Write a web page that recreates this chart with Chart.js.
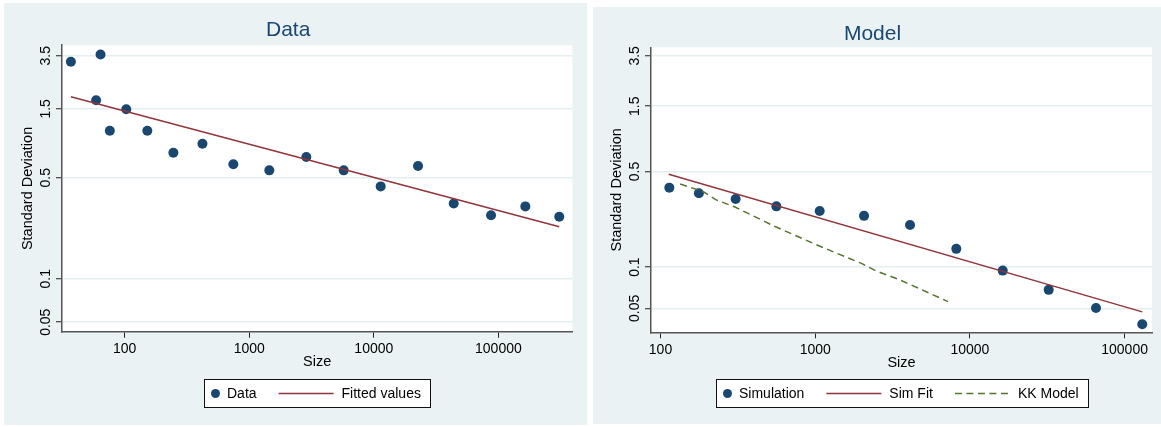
<!DOCTYPE html>
<html>
<head>
<meta charset="utf-8">
<script src="https://cdn.jsdelivr.net/npm/chart.js@4.4.1/dist/chart.umd.min.js"></script>
<style>
  body { margin: 0; background: #fff; width: 1161px; height: 427px; overflow: hidden; position: relative; }
  .panel { position: absolute; }
  #left { left: 4px; top: 3px; width: 583px; height: 422px; }
  #right { left: 593px; top: 7px; width: 568px; height: 417px; }
</style>
</head>
<body>
<div class="panel" id="left"><canvas id="dataChart" width="583" height="422"></canvas></div>
<div class="panel" id="right"><canvas id="modelChart" width="568" height="417"></canvas></div>
<script>
// observed standard deviation by size
const dataSize = [37, 64, 59, 103, 76, 152, 246, 421, 745, 1449, 2872, 5730, 11350, 22640, 43770, 87300, 164500, 308000];
const dataSd = [3.18, 3.57, 1.72, 1.49, 1.06, 1.06, 0.745, 0.86, 0.62, 0.563, 0.696, 0.563, 0.436, 0.603, 0.332, 0.275, 0.317, 0.269];
const fitSize = [37, 308000];
const fitSd = [1.82, 0.229];

// simulated standard deviation, its fit and the KK model curve
const simSize = [114, 177, 306, 561, 1069, 2068, 4101, 8166, 16290, 32300, 65300, 130000];
const simSd = [0.381, 0.347, 0.315, 0.278, 0.257, 0.237, 0.203, 0.136, 0.0943, 0.0682, 0.0503, 0.0383];
const simFitSize = [113, 130000];
const simFitSd = [0.477, 0.0471];
const kkSize = [134, 188, 229, 303, 379, 550, 1074, 2007, 2435, 3533, 7218];
const kkSd = [0.405, 0.357, 0.310, 0.275, 0.243, 0.198, 0.142, 0.106, 0.0946, 0.0806, 0.056];

const sizeTicks = [100, 1000, 10000, 100000];
const sdTicks = [0.05, 0.1, 0.5, 1.5, 3.5];

const navy = '#1a476f', maroon = '#90353b', green = '#55752f';
const panelBg = '#eaf2f3';
const fontFamily = '"Liberation Sans", Arial, sans-serif';

Chart.defaults.font.family = fontFamily;
Chart.defaults.color = '#000';

function pts(xs, ys) {
  return xs.map((x, i) => ({ x: x, y: ys[i] }));
}

function dotSet(label, xs, ys) {
  return { label: label, data: pts(xs, ys), backgroundColor: navy, borderColor: navy,
    pointRadius: 5, pointBorderWidth: 0, showLine: false, order: 2 };
}

function lineSet(label, xs, ys, color, dash) {
  return { label: label, data: pts(xs, ys), borderColor: color, backgroundColor: color,
    borderWidth: 1.5, borderDash: dash || [], pointRadius: 0, showLine: true,
    fill: false, tension: 0, order: 1 };
}

// grey panel with a white plot region
const panelFill = {
  id: 'panelFill',
  beforeDraw(chart) {
    const { ctx, chartArea: a, width, height } = chart;
    ctx.save();
    ctx.fillStyle = panelBg;
    ctx.fillRect(0, 0, width, height);
    ctx.fillStyle = '#fff';
    ctx.fillRect(a.left, a.top, a.right - a.left, a.bottom - a.top);
    ctx.restore();
  }
};

// framed legend row under the x axis
const boxedLegend = {
  id: 'boxedLegend',
  afterDraw(chart) {
    const { ctx, chartArea: a } = chart;
    ctx.save();
    ctx.font = '14px ' + fontFamily;
    const parts = chart.data.datasets.map(ds => ({
      ds: ds,
      sample: ds.showLine ? 55 : 9,
      gap: ds.showLine ? 8 : 7,
      tw: ctx.measureText(ds.label).width
    }));
    const inner = parts.reduce((s, p) => s + p.sample + p.gap + p.tw, 0) + 22 * (parts.length - 1);
    const w = Math.round(6.5 + inner + 9.5), h = 28;
    const left = Math.round((a.left + a.right) / 2 - w / 2) + 0.5;
    const top = Math.round(a.bottom + 47) + 0.5;
    ctx.fillStyle = '#fff';
    ctx.fillRect(left, top, w, h);
    ctx.strokeStyle = '#111';
    ctx.lineWidth = 1;
    ctx.strokeRect(left, top, w, h);
    const cy = top + h / 2;
    let x = left + 6.5;
    ctx.textBaseline = 'middle';
    ctx.textAlign = 'left';
    parts.forEach(p => {
      ctx.beginPath();
      if (p.ds.showLine) {
        ctx.strokeStyle = p.ds.borderColor;
        ctx.lineWidth = p.ds.borderWidth;
        ctx.setLineDash(p.ds.borderDash);
        ctx.moveTo(x, cy);
        ctx.lineTo(x + p.sample, cy);
        ctx.stroke();
        ctx.setLineDash([]);
      } else {
        ctx.fillStyle = p.ds.backgroundColor;
        ctx.arc(x + p.sample / 2, cy, p.sample / 2, 0, Math.PI * 2);
        ctx.fill();
      }
      x += p.sample + p.gap;
      ctx.fillStyle = '#000';
      ctx.fillText(p.ds.label, x, cy + 1);
      x += p.tw + 22;
    });
    ctx.restore();
  }
};

function axes(xMin, xMax, yMin, yMax) {
  return {
    x: {
      type: 'logarithmic', min: xMin, max: xMax,
      afterBuildTicks: s => { s.ticks = sizeTicks.map(v => ({ value: v })); },
      afterFit: s => { s.height = 40; },
      ticks: { callback: v => String(v), font: { size: 14 }, padding: 3, maxRotation: 0, autoSkip: false, color: '#000' },
      grid: { drawOnChartArea: false, tickLength: 6, tickColor: '#222', tickWidth: 1 },
      border: { color: '#555', width: 1.5 },
      title: { display: true, text: 'Size', font: { size: 14.5 }, padding: { top: 0, bottom: 1 }, color: '#000' }
    },
    y: {
      type: 'logarithmic', min: yMin, max: yMax,
      afterBuildTicks: s => { s.ticks = sdTicks.map(v => ({ value: v })); },
      afterFit: s => { s.width = 58; },
      ticks: { callback: v => String(v), font: { size: 14 }, minRotation: 90, maxRotation: 90,
        crossAlign: 'center', padding: -3.5, autoSkip: false, color: '#000' },
      grid: { color: '#e4edef', lineWidth: 1.5, tickLength: 6, tickColor: '#222', tickWidth: 1 },
      border: { color: '#555', width: 1.5 },
      title: { display: true, text: 'Standard Deviation', font: { size: 14.5 }, padding: { top: 15.3 }, color: '#000' }
    }
  };
}

function makeChart(id, title, datasets, range, pad, titlePad) {
  return new Chart(document.getElementById(id), {
    type: 'scatter',
    data: { datasets: datasets },
    options: {
      responsive: false,
      animation: false,
      devicePixelRatio: 1,
      layout: { padding: pad },
      scales: axes(range[0], range[1], range[2], range[3]),
      plugins: {
        legend: { display: false },
        tooltip: { enabled: false },
        title: { display: true, text: title, color: navy, font: { size: 21, weight: 'normal' }, padding: titlePad }
      }
    },
    plugins: [panelFill, boxedLegend]
  });
}

makeChart('dataChart', 'Data',
  [dotSet('Data', dataSize, dataSd), lineSet('Fitted values', fitSize, fitSd, maroon)],
  [31.4, 392600, 0.043, 4.14],
  { left: 0, right: 14.6, top: 0, bottom: 53.3 },
  { top: 14.4, bottom: 2.6 });

makeChart('modelChart', 'Model',
  [dotSet('Simulation', simSize, simSd), lineSet('Sim Fit', simFitSize, simFitSd, maroon),
   lineSet('KK Model', kkSize, kkSd, green, [7, 4.5])],
  [86.8, 150300, 0.0334, 4.04],
  { left: 0, right: 9, top: 0, bottom: 51.7 },
  { top: 14.9, bottom: 0.2 });
</script>
</body>
</html>
